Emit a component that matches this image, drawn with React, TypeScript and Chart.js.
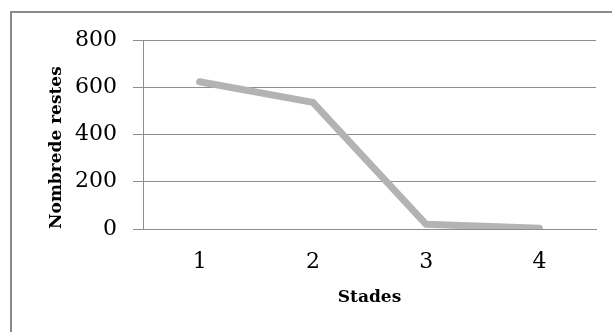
import React, { useEffect, useRef } from "react";
import { Chart, registerables } from "chart.js";

Chart.register(...registerables);

const categories = ["1", "2", "3", "4"];
const values = [623, 536, 20, 3];
const yTicks = [0, 200, 400, 600, 800];
const xTitle = "Stades";
const yTitle = "Nombrede restes";

export default function App() {
  const ref = useRef<HTMLCanvasElement | null>(null);

  useEffect(() => {
    document.body.style.margin = "0";
    const ctx = ref.current!.getContext("2d")!;
    const chart = new Chart(ctx, {
      type: "line",
      data: {
        labels: categories,
        datasets: [
          {
            data: values,
            borderColor: "#b3b3b3",
            borderWidth: 7,
            borderCapStyle: "round",
            borderJoinStyle: "round",
            pointRadius: 0,
            pointHoverRadius: 0,
            tension: 0,
            fill: false,
          },
        ],
      },
      options: {
        animation: false,
        responsive: false,
        maintainAspectRatio: false,
        events: [],
        layout: { padding: { left: 0, right: 16, top: 40, bottom: 0 } },
        plugins: { legend: { display: false }, tooltip: { enabled: false } },
        scales: {
          x: {
            type: "category",
            offset: true,
            grid: { display: false, drawTicks: false },
            border: { display: true, color: "#8e8e8e", width: 1 },
            ticks: {
              color: "#000",
              padding: 20,
              font: { family: "DejaVu Serif", size: 22 },
              maxRotation: 0,
            },
            title: {
              display: true,
              text: xTitle,
              color: "#000",
              font: { family: "DejaVu Serif", size: 17, weight: "bold" },
              padding: { top: 0, bottom: 24 },
            },
            afterFit: (s: any) => {
              s.height = 103;
            },
          },
          y: {
            min: 0,
            max: 800,
            afterBuildTicks: (s: any) => {
              s.ticks = yTicks.map((v) => ({ value: v }));
            },
            grid: { color: "#8e8e8e", lineWidth: 1, tickLength: 10 },
            border: { display: true, color: "#8e8e8e", width: 1 },
            ticks: {
              color: "#000",
              padding: 16,
              font: { family: "DejaVu Serif", size: 22 },
            },
            title: {
              display: true,
              text: yTitle,
              align: "start",
              color: "#000",
              font: { family: "DejaVu Serif", size: 17, weight: "bold" },
              padding: { top: 46, bottom: 0 },
            },
            afterFit: (s: any) => {
              s.width = 143;
            },
          },
        },
      },
    });
    return () => chart.destroy();
  }, []);

  return (
    <div style={{ position: "fixed", left: 0, top: 0, width: 612, height: 332, overflow: "hidden", background: "#fff" }}>
      <div
        style={{
          position: "absolute",
          left: 10,
          top: 11,
          width: 640,
          height: 360,
          border: "2px solid #8a8a8a",
          boxSizing: "border-box",
        }}
      />
      <canvas ref={ref} width={612} height={332} style={{ position: "absolute", left: 0, top: 0 }} />
    </div>
  );
}
